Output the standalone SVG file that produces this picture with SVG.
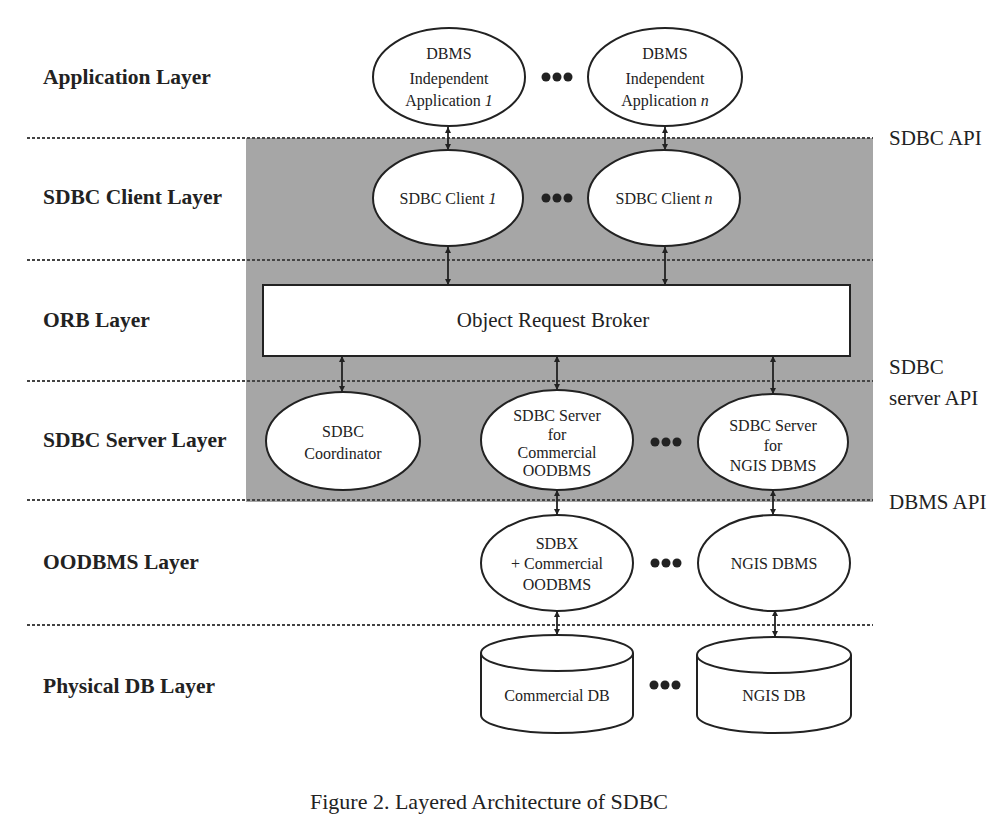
<svg xmlns="http://www.w3.org/2000/svg" width="998" height="828" viewBox="0 0 998 828">
<defs>
<marker id="ah" markerUnits="userSpaceOnUse" markerWidth="7" markerHeight="7" refX="6" refY="3.5" orient="auto-start-reverse">
<path d="M0,0.5 L6,3.5 L0,6.5 z" fill="#222"/>
</marker>
</defs>
<style>
.layer{font-family:"Liberation Serif","Times New Roman",serif;font-size:21.5px;font-weight:bold;fill:#222}
.api{font-family:"Liberation Serif","Times New Roman",serif;font-size:21px;fill:#222}
.t{font-family:"Liberation Serif","Times New Roman",serif;font-size:16px;fill:#222;text-anchor:middle}
.orb{font-family:"Liberation Serif","Times New Roman",serif;font-size:21px;fill:#222;text-anchor:middle}
.cap{font-family:"Liberation Serif","Times New Roman",serif;font-size:22px;fill:#222;text-anchor:middle}
.node{fill:#fff;stroke:#222;stroke-width:2}
.sep{stroke:#444;stroke-width:2;stroke-dasharray:3 2;fill:none}
.conn{stroke:#222;stroke-width:1.8;fill:none;marker-start:url(#ah);marker-end:url(#ah)}
.dot{fill:#222}
</style>
<rect width="998" height="828" fill="#fff"/>
<g id="sdbc-region">
<rect x="246" y="138" width="627" height="364" fill="#a6a6a6"/>
</g>
<g id="separators">
<line class="sep" x1="27" y1="138" x2="873" y2="138"/>
<line class="sep" x1="27" y1="260" x2="873" y2="260"/>
<line class="sep" x1="27" y1="381" x2="873" y2="381"/>
<line class="sep" x1="27" y1="500" x2="873" y2="500"/>
<line class="sep" x1="27" y1="625" x2="873" y2="625"/>
</g>
<g id="layer-labels">
<text class="layer" x="43" y="84">Application Layer</text>
<text class="layer" x="43" y="204">SDBC Client Layer</text>
<text class="layer" x="43" y="327">ORB Layer</text>
<text class="layer" x="43" y="447">SDBC Server Layer</text>
<text class="layer" x="43" y="569">OODBMS Layer</text>
<text class="layer" x="43" y="693">Physical DB Layer</text>
</g>
<g id="api-labels">
<text class="api" x="889" y="145">SDBC API</text>
<text class="api" x="889" y="374">SDBC</text>
<text class="api" x="889" y="405">server API</text>
<text class="api" x="889" y="509">DBMS API</text>
</g>
<g id="connectors">
<line class="conn" x1="448" y1="127" x2="448" y2="150"/>
<line class="conn" x1="665" y1="127" x2="665" y2="150"/>
<line class="conn" x1="448" y1="247" x2="448" y2="285"/>
<line class="conn" x1="665" y1="247" x2="665" y2="285"/>
<line class="conn" x1="342" y1="356" x2="342" y2="392"/>
<line class="conn" x1="557" y1="356" x2="557" y2="390"/>
<line class="conn" x1="773" y1="356" x2="773" y2="394"/>
<line class="conn" x1="557" y1="490" x2="557" y2="515"/>
<line class="conn" x1="773" y1="490" x2="773" y2="515"/>
<line class="conn" x1="557" y1="611" x2="557" y2="635"/>
<line class="conn" x1="775" y1="610" x2="775" y2="637"/>
</g>
<g id="app1">
<ellipse class="node" cx="449" cy="77" rx="76" ry="49"/>
<text class="t" x="449" y="59">DBMS</text>
<text class="t" x="449" y="84">Independent</text>
<text class="t" x="449" y="106">Application <tspan font-style="italic">1</tspan></text>
</g>
<g id="appn">
<ellipse class="node" cx="665" cy="77" rx="77" ry="49"/>
<text class="t" x="665" y="59">DBMS</text>
<text class="t" x="665" y="84">Independent</text>
<text class="t" x="665" y="106">Application <tspan font-style="italic">n</tspan></text>
</g>
<g id="app-dots">
<circle class="dot" cx="546" cy="77" r="4.5"/><circle class="dot" cx="557" cy="77" r="4.5"/><circle class="dot" cx="568" cy="77" r="4.5"/>
</g>
<g id="client1">
<ellipse class="node" cx="448" cy="198" rx="75" ry="48"/>
<text class="t" x="448" y="204">SDBC Client <tspan font-style="italic">1</tspan></text>
</g>
<g id="clientn">
<ellipse class="node" cx="664" cy="198" rx="76" ry="48"/>
<text class="t" x="664" y="204">SDBC Client <tspan font-style="italic">n</tspan></text>
</g>
<g id="client-dots">
<circle class="dot" cx="546" cy="198" r="4.5"/><circle class="dot" cx="557" cy="198" r="4.5"/><circle class="dot" cx="568" cy="198" r="4.5"/>
</g>
<g id="orb">
<rect class="node" x="263" y="285" width="587" height="71"/>
<text class="orb" x="553" y="327">Object Request Broker</text>
</g>
<g id="coordinator">
<ellipse class="node" cx="343" cy="441" rx="77" ry="49"/>
<text class="t" x="343" y="437">SDBC</text>
<text class="t" x="343" y="459">Coordinator</text>
</g>
<g id="server-commercial">
<ellipse class="node" cx="557" cy="440" rx="76" ry="50"/>
<text class="t" x="557" y="421">SDBC Server</text>
<text class="t" x="557" y="440">for</text>
<text class="t" x="557" y="458">Commercial</text>
<text class="t" x="557" y="476">OODBMS</text>
</g>
<g id="server-dots">
<circle class="dot" cx="655" cy="442" r="4.5"/><circle class="dot" cx="666" cy="442" r="4.5"/><circle class="dot" cx="677" cy="442" r="4.5"/>
</g>
<g id="server-ngis">
<ellipse class="node" cx="773" cy="442" rx="75" ry="48"/>
<text class="t" x="773" y="431">SDBC Server</text>
<text class="t" x="773" y="451">for</text>
<text class="t" x="773" y="471">NGIS DBMS</text>
</g>
<g id="sdbx">
<ellipse class="node" cx="557" cy="563" rx="76" ry="48"/>
<text class="t" x="557" y="549">SDBX</text>
<text class="t" x="557" y="569">+ Commercial</text>
<text class="t" x="557" y="590">OODBMS</text>
</g>
<g id="oodbms-dots">
<circle class="dot" cx="655" cy="563" r="4.5"/><circle class="dot" cx="666" cy="563" r="4.5"/><circle class="dot" cx="677" cy="563" r="4.5"/>
</g>
<g id="ngis-dbms">
<ellipse class="node" cx="774" cy="563" rx="76" ry="48"/>
<text class="t" x="774" y="569">NGIS DBMS</text>
</g>
<g id="commercial-db">
<path class="node" d="M481,653 L481,715 A76,18 0 0 0 633,715 L633,653 A76,18 0 0 0 481,653 Z"/>
<path class="node" fill="none" d="M481,653 A76,18 0 0 0 633,653"/>
<text class="t" x="557" y="701">Commercial DB</text>
</g>
<g id="db-dots">
<circle class="dot" cx="654" cy="685" r="4.5"/><circle class="dot" cx="665" cy="685" r="4.5"/><circle class="dot" cx="676" cy="685" r="4.5"/>
</g>
<g id="ngis-db">
<path class="node" d="M697,655 L697,715 A77,18 0 0 0 851,715 L851,655 A77,18 0 0 0 697,655 Z"/>
<path class="node" fill="none" d="M697,655 A77,18 0 0 0 851,655"/>
<text class="t" x="774" y="701">NGIS DB</text>
</g>
<g id="caption">
<text class="cap" x="489" y="809">Figure 2. Layered Architecture of SDBC</text>
</g>
</svg>
